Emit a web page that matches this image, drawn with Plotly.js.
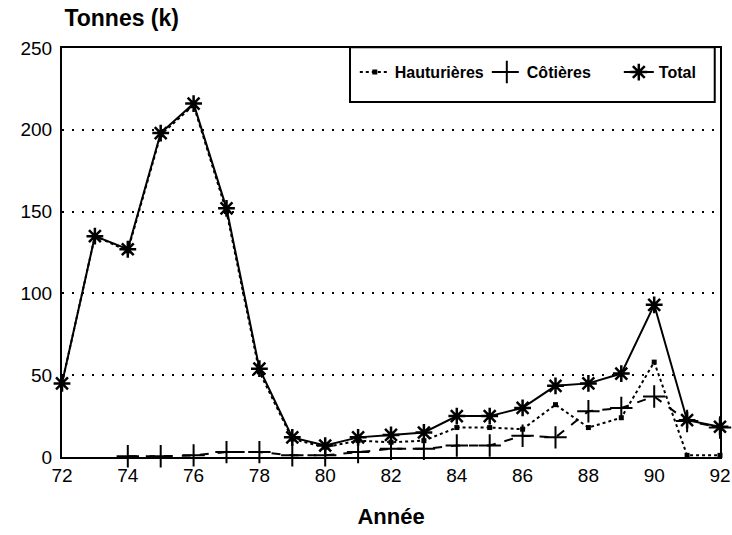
<!DOCTYPE html>
<html>
<head>
<meta charset="utf-8">
<script src="https://cdn.plot.ly/plotly-3.0.1.min.js"></script>
<style>html,body{margin:0;padding:0;background:#fff;}#chart{width:732px;height:535px;}</style>
</head>
<body>
<div id="chart"></div>
<script>
const years = [72,73,74,75,76,77,78,79,80,81,82,83,84,85,86,87,88,89,90,91,92];
const hauturieres = [45,135,126,197,215,150,52,11,6,10,9,10,18,18,17,32,18,24,58,1,1];
const cotieresYears = [74,75,76,77,78,79,80,81,82,83,84,85,86,87,88,89,90,91,92];
const cotieres = [0.5,0.5,1,3,3,1,1,3,5,5,7,7,13,12,28,30,37,22,18];
const total = [45,135,127,198,216,152,54,12,7,12,13.5,15,25,25,30,43.5,45,51,93,22.5,18.5];
const seriesNames = ['Hauturières','Côtières','Total'];
const xTicks = [72,74,76,78,80,82,84,86,88,90,92];
const yTicks = [0,50,100,150,200,250];

const FONT = 'Liberation Sans, Arial, Helvetica, sans-serif';

const traces = [
  {x: years, y: hauturieres, name: seriesNames[0], mode: 'lines+markers',
   line: {color: '#000', width: 2, dash: 'dot'},
   marker: {symbol: 'square', size: 5, color: '#000'}, cliponaxis: false},
  {x: cotieresYears, y: cotieres, name: seriesNames[1], mode: 'lines+markers',
   line: {color: '#000', width: 2, dash: 'dash'},
   marker: {symbol: 'cross-thin-open', size: 16, color: '#000', line: {width: 2, color: '#000'}}, cliponaxis: false},
  {x: years, y: total, name: seriesNames[2], mode: 'lines+markers',
   line: {color: '#000', width: 2},
   marker: {symbol: 'asterisk-open', size: 14, color: '#000', line: {width: 2.5, color: '#000'}}, cliponaxis: false}
];

const layout = {
  width: 732, height: 535,
  margin: {l: 62, r: 12, t: 48, b: 78, autoexpand: false},
  paper_bgcolor: '#fff', plot_bgcolor: '#fff',
  font: {family: FONT, color: '#000', size: 18},
  showlegend: true,
  title: {text: 'Tonnes (k)', x: 0.088, xanchor: 'left', xref: 'container', y: 0.967, yanchor: 'middle', yref: 'container',
          font: {family: FONT, size: 23, weight: 'bold', color: '#000'}},
  xaxis: {range: [72, 92], tickvals: xTicks, ticks: '', automargin: false,
          showgrid: false, zeroline: false, showline: true, linecolor: '#000', linewidth: 2, mirror: true,
          tickfont: {size: 19, family: FONT},
          title: {text: 'Année', font: {size: 22, weight: 'bold', family: FONT}, standoff: 24}},
  yaxis: {range: [0, 250], tickvals: yTicks, ticks: '', automargin: false,
          showgrid: true, gridcolor: '#000', gridwidth: 2, griddash: '2px,8px',
          zeroline: false, showline: true, linecolor: '#000', linewidth: 2, mirror: true,
          tickfont: {size: 19, family: FONT}, ticklabelstandoff: 4},
  legend: {orientation: 'h', x: 0.445, xanchor: 'left', y: 0.941, yanchor: 'middle',
           bgcolor: 'rgba(0,0,0,0)', borderwidth: 0, font: {size: 16, family: FONT, weight: 'bold'},
           itemwidth: 30, traceorder: 'normal', entrywidth: 87, entrywidthmode: 'pixels'},
  shapes: [{type: 'rect', xref: 'paper', yref: 'paper', x0: 0.4377, x1: 0.992, y0: 0.868, y1: 1.002,
            line: {color: '#000', width: 2}, fillcolor: '#fff', layer: 'above'}]
};

Plotly.newPlot('chart', traces, layout, {displayModeBar: false, staticPlot: true});
</script>
</body>
</html>
